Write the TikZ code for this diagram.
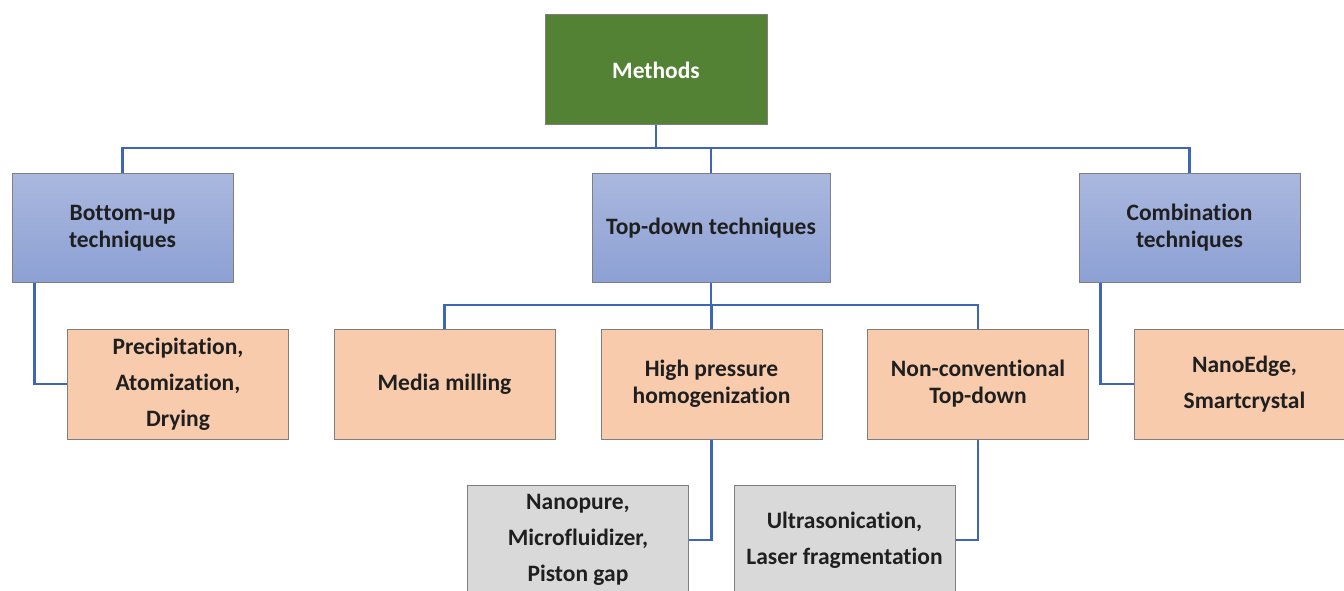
\documentclass[tikz,border=0pt]{standalone}
\usepackage{fontspec}
\setmainfont{Carlito}[Ligatures=NoCommon]
\definecolor{mgreen}{HTML}{548235}
\definecolor{btop}{HTML}{AAB8DE}
\definecolor{bbot}{HTML}{8CA0D4}
\definecolor{borange}{HTML}{F7CBAC}
\definecolor{bgray}{HTML}{D9D9D9}
\definecolor{edgegray}{HTML}{7F7F7F}
\definecolor{conblue}{HTML}{3D66B6}
\definecolor{txt}{HTML}{1F1F1F}
\begin{document}
\begin{tikzpicture}[x=1pt,y=-1pt,
  box/.style={draw=edgegray, line width=1pt, align=center, inner sep=0pt,
    font=\fontsize{23.5}{27}\selectfont\bfseries, text=txt},
  greenbox/.style={box, fill=mgreen, text=white, minimum width=222pt, minimum height=110pt},
  bluebox/.style={box, top color=btop, bottom color=bbot, minimum height=109pt},
  orangebox/.style={box, fill=borange, minimum width=221pt, minimum height=110pt},
  graybox/.style={box, fill=bgray, minimum width=221pt, minimum height=110pt},
  wide/.style={font=\fontsize{23.5}{36}\selectfont\bfseries},
  con/.style={draw=conblue, line width=2.5pt}
]
\useasboundingbox (0,0) rectangle (1344,591);

\node[greenbox] (methods) at (656,70) {Methods};
\node[bluebox, minimum width=221pt] (bottomup) at (122.5,228) {Bottom-up\\techniques};
\node[bluebox, minimum width=238pt] (topdown) at (711,228) {Top-down techniques};
\node[bluebox, minimum width=221pt] (combo) at (1189.5,228) {Combination\\techniques};

\node[orangebox, wide] (precip) at (178,384) {Precipitation,\\Atomization,\\Drying};
\node[orangebox] (media) at (444.5,384) {Media milling};
\node[orangebox] (highp) at (711.5,384) {High pressure\\homogenization};
\node[orangebox] (noncon) at (978,384) {Non-conventional\\Top-down};
\node[orangebox, wide] (nanoedge) at (1244.5,384) {NanoEdge,\\Smartcrystal};

\node[graybox, wide] (nanopure) at (578,540) {Nanopure,\\Microfluidizer,\\Piston gap};
\node[graybox, wide] (ultra) at (844.5,540) {Ultrasonication,\\Laser fragmentation};

\coordinate (bus1) at (656,148);
\coordinate (bus2) at (711,305);

\begin{scope}[on background layer/.style={}]
\draw[con] (methods.south) -- (methods.south |- bus1);
\draw[con] (bottomup.north) |- (combo.north |- bus1) -- (combo.north);
\draw[con] (topdown.north) -- (topdown.north |- bus1);

\draw[con] (topdown.south) -- (topdown.south |- bus2);
\draw[con] (media.north) |- (noncon.north |- bus2) -- (noncon.north);
\draw[con] (highp.north) -- (highp.north |- bus2);

\draw[con] ([xshift=23pt]bottomup.south west) |- (precip.west);
\draw[con] ([xshift=22pt]combo.south west) |- (nanoedge.west);
\draw[con] (highp.south) |- (nanopure.east);
\draw[con] (noncon.south) |- (ultra.east);
\end{scope}
\end{tikzpicture}
\end{document}
